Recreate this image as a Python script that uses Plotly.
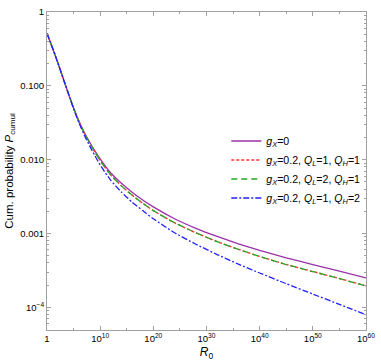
import plotly.graph_objects as go

# log10(R0) sample positions
log_r0 = [0, 1, 2, 3, 4, 5, 6, 7, 8, 9, 10, 11, 12, 14, 16, 18, 20, 24, 28, 32, 36, 40, 45, 50, 55, 60]

# log10 of the cumulative probability
logp_gx0 = [-0.29, -0.48, -0.68, -0.89, -1.10, -1.30, -1.48, -1.63, -1.76, -1.88, -1.99, -2.09,
            -2.18, -2.32, -2.44, -2.545, -2.64, -2.80, -2.93, -3.04, -3.14, -3.23, -3.33, -3.42,
            -3.51, -3.60]
logp_ql1_qh1 = [-0.29, -0.48, -0.68, -0.89, -1.10, -1.30, -1.48, -1.635, -1.77, -1.895, -2.01,
                -2.115, -2.21, -2.355, -2.48, -2.59, -2.69, -2.855, -2.99, -3.11, -3.215, -3.31,
                -3.42, -3.515, -3.61, -3.71]
logp_ql2_qh1 = [-0.29, -0.48, -0.68, -0.89, -1.10, -1.30, -1.48, -1.635, -1.77, -1.895, -2.01,
                -2.115, -2.21, -2.355, -2.48, -2.59, -2.69, -2.855, -2.99, -3.11, -3.215, -3.31,
                -3.42, -3.515, -3.61, -3.71]
logp_ql1_qh2 = [-0.29, -0.48, -0.68, -0.89, -1.10, -1.31, -1.50, -1.665, -1.81, -1.945, -2.07,
                -2.18, -2.28, -2.44, -2.575, -2.69, -2.80, -2.99, -3.145, -3.285, -3.415, -3.535,
                -3.68, -3.82, -3.96, -4.10]

names = ["<i>g</i><sub><i>X</i></sub>=0",
         "<i>g</i><sub><i>X</i></sub>=0.2, <i>Q</i><sub><i>L</i></sub>=1, <i>Q</i><sub><i>H</i></sub>=1",
         "<i>g</i><sub><i>X</i></sub>=0.2, <i>Q</i><sub><i>L</i></sub>=2, <i>Q</i><sub><i>H</i></sub>=1",
         "<i>g</i><sub><i>X</i></sub>=0.2, <i>Q</i><sub><i>L</i></sub>=1, <i>Q</i><sub><i>H</i></sub>=2"]
colors = ["#9B30A8", "#FF3030", "#22A822", "#2020FF"]
dashes = ["solid", "3px,2px", "6px,4px", "6px,2px,2px,2px"]
series = [logp_gx0, logp_ql1_qh1, logp_ql2_qh1, logp_ql1_qh2]

x_tick_exp = [0, 10, 20, 30, 40, 50, 60]
x_tick_text = ["1"] + ["10<sup>%d</sup>" % e for e in x_tick_exp[1:]]
y_tick_vals = [1, 0.1, 0.01, 0.001, 0.0001]
y_tick_text = ["1", "0.100", "0.010", "0.001", "10<sup>−4</sup>"]

x = [10.0 ** e for e in log_r0]

fig = go.Figure()
for name, ys, c, d in zip(names, series, colors, dashes):
    fig.add_trace(go.Scatter(x=x, y=[10.0 ** v for v in ys], mode="lines", name=name,
                             line=dict(color=c, width=1.3, dash=d, shape="spline", smoothing=0.5)))

font_family = "Liberation Sans, Arial"
axis_common = dict(showline=True, linecolor="#A0A0A0", linewidth=1, mirror="allticks",
                   ticks="inside", tickcolor="#A0A0A0", showgrid=False, zeroline=False,
                   tickfont=dict(family=font_family, size=9.5, color="black"))

fig.update_xaxes(type="log", range=[0, 60.0001], tickmode="array",
                 tickvals=[10.0 ** e for e in x_tick_exp], ticktext=x_tick_text, ticklen=4,
                 minor=dict(tickmode="array", tickvals=[10.0 ** e for e in [5, 15, 25, 35, 45, 55]],
                            ticks="inside", ticklen=2, tickcolor="#A0A0A0"),
                 title=dict(text="<i>R</i><sub>0</sub>",
                            font=dict(family=font_family, size=12, color="black"), standoff=4),
                 **axis_common)
y_minor = [m * 10.0 ** k for k in range(-5, 0) for m in range(2, 10)]
fig.update_yaxes(type="log", range=[-4.307, 0.0001], tickmode="array",
                 tickvals=y_tick_vals, ticktext=y_tick_text, ticklen=4,
                 minor=dict(tickmode="array", tickvals=y_minor, ticks="inside", ticklen=2,
                            tickcolor="#A0A0A0"),
                 title=dict(text="Cum. probability <i>P</i><sub>cumul</sub>",
                            font=dict(family=font_family, size=11.5, color="black"), standoff=4),
                 **axis_common)

fig.update_layout(width=381, height=364, margin=dict(l=47, r=11, t=6, b=34),
                  paper_bgcolor="white", plot_bgcolor="white", showlegend=True,
                  legend=dict(x=0.562, y=0.64, xanchor="left", yanchor="top",
                              bgcolor="rgba(0,0,0,0)", tracegroupgap=0,
                              font=dict(family=font_family, size=10.6, color="black")))

fig.write_html("out.html", config={"displayModeBar": False},
               post_script="document.body.style.margin='0px';")
